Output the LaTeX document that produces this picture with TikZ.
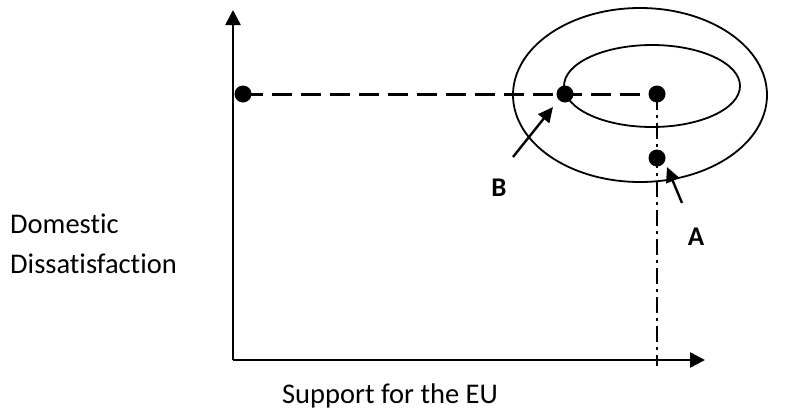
\documentclass[tikz,border=0pt]{standalone}
\usepackage{fontspec}
\setmainfont{Carlito}[Ligatures=NoCommon]
\usetikzlibrary{arrows.meta}
\begin{document}
\begin{tikzpicture}[x=1pt,y=-1pt,
  axis/.style={line width=2.6pt,-{Triangle[length=15pt,width=15pt]}},
  dot/.style={circle,fill=black,inner sep=0pt,minimum size=17pt},
  curve/.style={line width=1.8pt},
  hdash/.style={line width=3pt,dash pattern=on 20pt off 9pt},
  vdash/.style={line width=2.4pt,dash pattern=on 16pt off 5pt on 3pt off 5pt},
  pointer/.style={line width=2.4pt,-{Triangle[length=15pt,width=14pt]}},
  lbl/.style={font=\fontsize{27}{32}\selectfont\bfseries,inner sep=0pt},
  txt/.style={font=\fontsize{28.5}{40}\selectfont,inner sep=0pt}]
\useasboundingbox (0,0) rectangle (787,410);
\coordinate (o) at (233,360);
\coordinate (ytop) at (233,10);
\coordinate (xend) at (705,360);
\draw[axis] (o) -- (ytop);
\draw[axis] (o) -- (xend);
\draw[curve] (640,95) ellipse [x radius=127, y radius=87];
\draw[curve] (652,86) ellipse [x radius=88, y radius=41];
\node[dot] (p) at (243,94) {};
\node[dot] (b) at (565,94) {};
\node[dot] (c) at (657,94) {};
\node[dot] (a) at (657,158) {};
\coordinate (cb) at (657,366);
\draw[hdash] (p.center) -- (c.center);
\draw[vdash] (c.center) -- (cb);
\coordinate (bs) at (513,157);
\coordinate (bt) at (553,107);
\draw[pointer] (bs) -- (bt);
\coordinate (as) at (682,203);
\coordinate (at2) at (667,167);
\draw[pointer] (as) -- (at2);
\node[lbl,anchor=base] (lb) at (499,196) {B};
\node[lbl,anchor=base] (la) at (696,245) {A};
\node[txt,anchor=base west] (ylab1) at (10,233) {Domestic};
\node[txt,anchor=base west] (ylab2) at (10,273) {Dissatisfaction};
\node[txt,anchor=base] (xlab) at (390,403) {Support for the EU};
\end{tikzpicture}
\end{document}
